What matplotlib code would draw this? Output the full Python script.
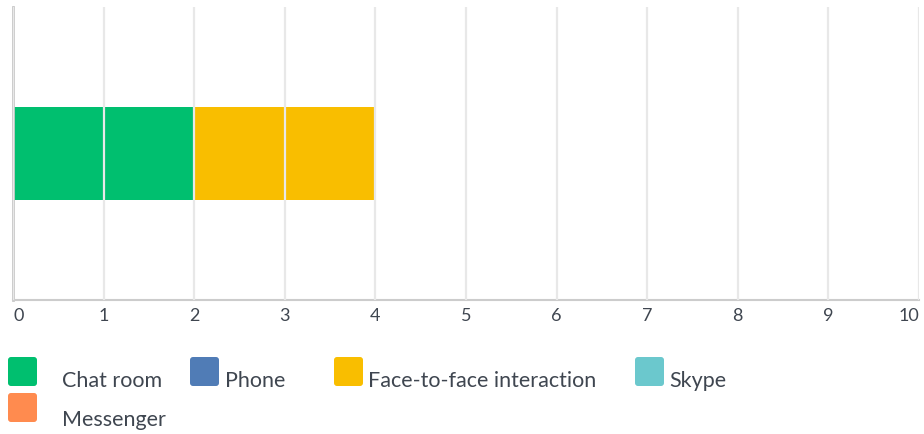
import matplotlib
matplotlib.use("Agg")
import matplotlib.pyplot as plt
from matplotlib.patches import FancyBboxPatch

# Stacked horizontal bar, one row, one segment per answer
series = ["Chat room", "Phone", "Face-to-face interaction", "Skype", "Messenger"]
values = [2, 0, 2, 0, 0]
colors = ["#00BF6F", "#507CB6", "#F9BE00", "#6BC8CD", "#FF8B4F"]
xticks = list(range(0, 11))

TEXT = "#3F4650"
plt.rcParams["font.family"] = ["Lato", "DejaVu Sans"]

fig = plt.figure(figsize=(9.24, 4.34), dpi=100)
ax = fig.add_axes([13 / 924, 1 - 300 / 434, 906 / 924, 293 / 434])

left = 0
for name, v, c in zip(series, values, colors):
    ax.barh(0, v, left=left, height=0.317, color=c, linewidth=0, zorder=1)
    left += v

ax.set_xlim(0, 10)
ax.set_ylim(-0.5, 0.5)
ax.set_xticks(xticks)
ax.set_xticklabels([str(t) for t in xticks], fontsize=13, color=TEXT)
# keep the end labels inside the figure
labels = ax.get_xticklabels()
labels[0].set_ha("left")
labels[-1].set_ha("right")
ax.set_yticks([])
ax.tick_params(axis="x", length=0, pad=6)
ax.grid(axis="x", color="#E8E8E8", linewidth=1.6, zorder=3)
ax.set_axisbelow(False)
for side in ["top", "right"]:
    ax.spines[side].set_visible(False)
ax.spines["left"].set_color("#C8C8C8")
ax.spines["left"].set_linewidth(2)
ax.spines["bottom"].set_color("#CCCCCC")
ax.spines["bottom"].set_linewidth(1.5)

# legend drawn in pixel coordinates on an overlay axes
lg = fig.add_axes([0, 0, 1, 1])
lg.set_xlim(0, 924)
lg.set_ylim(434, 0)
lg.axis("off")
# (square x, square top, text x, text baseline)
slots = [(8, 357, 62, 387), (190, 357, 225, 387), (334, 357, 368, 387),
         (635, 357, 669, 387), (8, 393, 62, 426)]
for (sx, sy, tx, ty), name, c in zip(slots, series, colors):
    lg.add_patch(FancyBboxPatch((sx + 2, sy + 2), 25, 25,
                                boxstyle="round,pad=2,rounding_size=3",
                                facecolor=c, edgecolor="none"))
    lg.text(tx, ty, name, fontsize=15.5, color=TEXT, va="baseline", ha="left")

fig.savefig("out.png", dpi=100)
